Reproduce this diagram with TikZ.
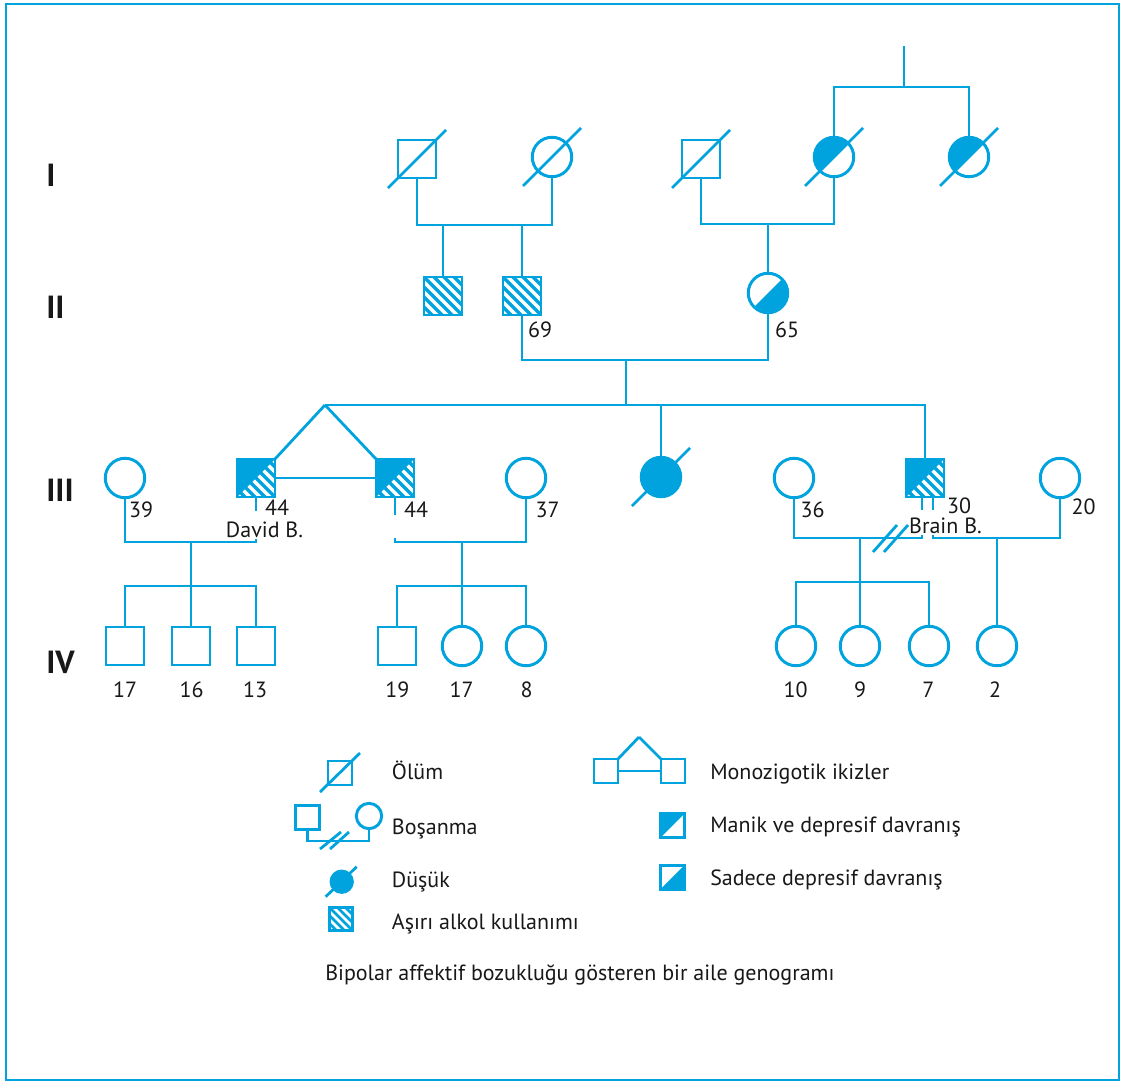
\documentclass[tikz,border=0pt]{standalone}
\usepackage{fontspec}
\setmainfont{PT Sans}
\usetikzlibrary{calc}
\definecolor{pb}{RGB}{0,163,221}
\definecolor{tx}{RGB}{24,24,24}
\newcommand{\hatchlines}[3]{%
  \foreach \k in {#1} {\draw[pb,line width=#2] ($(path picture bounding box.center)+(\k-#3,-#3)$) -- ($(path picture bounding box.center)+(\k+#3,#3)$);}}
\newcommand{\ulfill}{\fill[pb] (path picture bounding box.north west) -- (path picture bounding box.north east) -- (path picture bounding box.south west) -- cycle;}
\newcommand{\lrfill}{\fill[pb] (path picture bounding box.north east) -- (path picture bounding box.south east) -- (path picture bounding box.south west) -- cycle;}
\begin{document}
\begin{tikzpicture}[x=0.75pt,y=-0.75pt,
  conn/.style={line width=2.1pt, draw=pb},
  sq/.style={rectangle, draw=pb, line width=2.2pt, minimum size=28.5pt, inner sep=0pt, outer sep=0pt},
  ci/.style={circle, draw=pb, line width=2.2pt, minimum size=29.6pt, inner sep=0pt, outer sep=0pt},
  manic/.style={path picture={\ulfill}},
  depr/.style={path picture={\lrfill}},
  hatch/.style={path picture={\hatchlines{-40,-30,...,40}{2.4pt}{30}}},
  hatchsmall/.style={path picture={\hatchlines{-32,-24,...,32}{1.9pt}{22}}},
  manhatch/.style={path picture={\hatchlines{-40,-30,...,40}{2.4pt}{30}\ulfill}},
  lbl/.style={inner sep=0pt, text=tx, font=\fontsize{16.5}{19}\selectfont, text height=11.5pt, text depth=0pt},
  gen/.style={inner sep=0pt, text=tx, font=\fontsize{24}{28}\selectfont\bfseries, text height=17pt, text depth=0pt, anchor=west},
]
\useasboundingbox (0,0) rectangle (1121,1082);
\draw[pb, line width=1.7pt] (6,4) rectangle (1119,1080);

% generation numerals
\node[gen] (gI) at (46,175) {I};
\node[gen] (gII) at (46,307) {II};
\node[gen] (gIII) at (46,490) {III};
\node[gen] (gIV) at (46,662) {IV};

% ---------- Generation I
\node[sq] (I1) at (417,159) {};
\node[ci] (I2) at (552,157) {};
\node[sq] (I3) at (701,159) {};
\node[ci, manic] (I4) at (834,157) {};
\node[ci, manic] (I5) at (969,157) {};
\foreach \n in {I1,I2,I3,I4,I5} \draw[conn] ($(\n)+(-29,29)$) -- ($(\n)+(29,-29)$);
\coordinate (top) at (904,46);
\coordinate (tj) at (904,87);
\draw[conn] (top) -- (tj);
\draw[conn] (I4.north) |- (tj) -| (I5.north);

% ---------- Generation II
\node[sq, hatch] (II1) at (443,296) {};
\node[sq, hatch] (II2) at (522,296) {};
\node[ci, depr] (II3) at (768,293) {};
\node[lbl] (a69) at (540,330) {69};
\node[lbl] (a65) at (787,330) {65};

\coordinate (mI12) at (485,225);
\draw[conn] (I1.south) |- (mI12) -| (I2.south);
\draw[conn] (II1.north) -- (II1.north |- mI12);
\draw[conn] (II2.north) -- (II2.north |- mI12);
\coordinate (mI34) at (768,224);
\draw[conn] (I3.south) |- (mI34) -| (I4.south);
\draw[conn] (II3.north) -- (mI34);

\coordinate (mII) at (626,360);
\draw[conn] (II2.south) |- (mII) -| (II3.south);
\coordinate (sibIII) at (626,405);
\draw[conn] (mII) -- (sibIII);

% ---------- Generation III
\node[ci] (III1) at (125,478) {};
\node[sq, manhatch] (III2) at (256,478) {};
\node[sq, manhatch] (III3) at (395,478) {};
\node[ci] (III4) at (526,478) {};
\node[ci, fill=pb] (III5) at (661,477) {};
\node[ci] (III6) at (794,478) {};
\node[sq, manhatch] (III7) at (925,478) {};
\node[ci] (III8) at (1060,478) {};
\draw[conn] ($(III5)+(-29,29)$) -- ($(III5)+(29,-29)$);

\coordinate (apex) at (325,405);
\draw[conn] (apex) -| (III7.north);
\draw[conn] (III5.north) -- (III5.north |- apex);
\draw[conn] (apex) -- (III2.north east);
\draw[conn] (apex) -- (III3.north west);
\draw[conn] (III2.east) -- (III3.west);

\node[lbl] (a39) at (141,510) {39};
\node[lbl] (a44a) at (277,508) {44};
\node[lbl] (nDavid) at (264.5,529.5) {David B.};
\node[lbl] (a44b) at (416,510) {44};
\node[lbl] (a37) at (547.5,510) {37};
\node[lbl] (a36) at (812.5,510) {36};
\node[lbl] (a30) at (959,506) {30};
\node[lbl] (nBrain) at (945.5,526) {Brain B.};
\node[lbl] (a20) at (1083.5,507) {20};

% ---------- Generation IV
\node[sq] (IV1) at (125,646) {};
\node[sq] (IV2) at (191,646) {};
\node[sq] (IV3) at (256,646) {};
\node[sq] (IV4) at (397,646) {};
\node[ci] (IV5) at (462,646) {};
\node[ci] (IV6) at (526,646) {};
\node[ci] (IV7) at (796,646) {};
\node[ci] (IV8) at (860,646) {};
\node[ci] (IV9) at (929,646) {};
\node[ci] (IV10) at (997,646) {};
\node[lbl] at (125,690) {17};
\node[lbl] at (191.5,690) {16};
\node[lbl] at (255,690) {13};
\node[lbl] at (397.3,690) {19};
\node[lbl] at (461.7,690) {17};
\node[lbl] at (526.7,690) {8};
\node[lbl] at (795.7,690) {10};
\node[lbl] at (860,690) {9};
\node[lbl] at (928.3,690) {7};
\node[lbl] at (995,690) {2};

% marriages of generation III
\coordinate (mL) at (191,542);
\draw[conn] (III1.south) |- (mL) -| (256,539);
\draw[conn] (III2.south) -- ++(0,14);
\draw[conn] (IV2.north) -- (mL);
\draw[conn] (IV1.north) |- (191,586) -| (IV3.north);

\coordinate (mM) at (462,542);
\draw[conn] (III3.south) -- ++(0,18);
\draw[conn] (395,538) |- (mM) -| (III4.south);
\draw[conn] (IV5.north) -- (mM);
\draw[conn] (IV4.north) |- (462,586) -| (IV6.north);

\coordinate (mR1) at (860,538);
\coordinate (mR2) at (997,538);
\draw[conn] (III6.south) |- (mR1) -- (922,538) -- (922,535);
\draw[conn] (933,535) -- (933,538) -| (III8.south);
\draw[conn] ($(III7.south)+(-3,0)$) -- ++(0,13);
\draw[conn] ($(III7.south)+(8,0)$) -- ++(0,13);
\draw[conn] (873,552) -- (897,525);
\draw[conn] (884,552) -- (908,525);
\draw[conn] (IV8.north) -- (mR1);
\draw[conn] (IV7.north) |- (860,582) -| (IV9.north);
\draw[conn] (IV10.north) -- (mR2);

% ---------- Legend
\node[sq, minimum size=18pt] (Ld) at (340,773) {};
\draw[conn] ($(Ld)+(-20,19)$) -- ($(Ld)+(20,-20)$);
\node[lbl, anchor=west] (tLd) at (391.7,771.7) {Ölüm};

\node[sq, minimum size=18.5pt] (Lds) at (307.5,817.5) {};
\node[ci, minimum size=19pt] (Ldc) at (369,816) {};
\draw[conn] (Lds.south) |- (338,841) -| (Ldc.south);
\draw[conn] (320,849) -- (341,832);
\draw[conn] (330,849) -- (349,832);
\node[lbl, anchor=west] (tLds) at (391.7,826.7) {Boşanma};

\node[ci, fill=pb, minimum size=16pt] (Lm) at (341.7,881.7) {};
\draw[conn] ($(Lm)+(-16,15)$) -- ($(Lm)+(15,-15)$);
\node[lbl, anchor=west] (tLm) at (391.7,880) {Düşük};

\node[sq, minimum size=17.5pt, hatchsmall] (La) at (341,919) {};
\node[lbl, anchor=west] (tLa) at (391.7,921.7) {Aşırı alkol kullanımı};

\node[sq, minimum size=18pt] (Lt1) at (606,771) {};
\node[sq, minimum size=18pt] (Lt2) at (673,771) {};
\coordinate (Lapex) at (639,737);
\draw[conn] (Lapex) -- (Lt1.north east);
\draw[conn] (Lapex) -- (Lt2.north west);
\draw[conn] (Lt1.east) -- (Lt2.west);
\node[lbl, anchor=west] (tLt) at (710,771.7) {Monozigotik ikizler};

\node[sq, minimum size=18pt, manic] (Lmn) at (672.5,825.7) {};
\node[lbl, anchor=west] (tLmn) at (710,825) {Manik ve depresif davranış};
\node[sq, minimum size=18pt, depr] (Ldp) at (672.5,877.2) {};
\node[lbl, anchor=west] (tLdp) at (710,878.3) {Sadece depresif davranış};

\node[lbl, anchor=west] (cap) at (325,973) {Bipolar affektif bozukluğu gösteren bir aile genogramı};
\end{tikzpicture}
\end{document}
